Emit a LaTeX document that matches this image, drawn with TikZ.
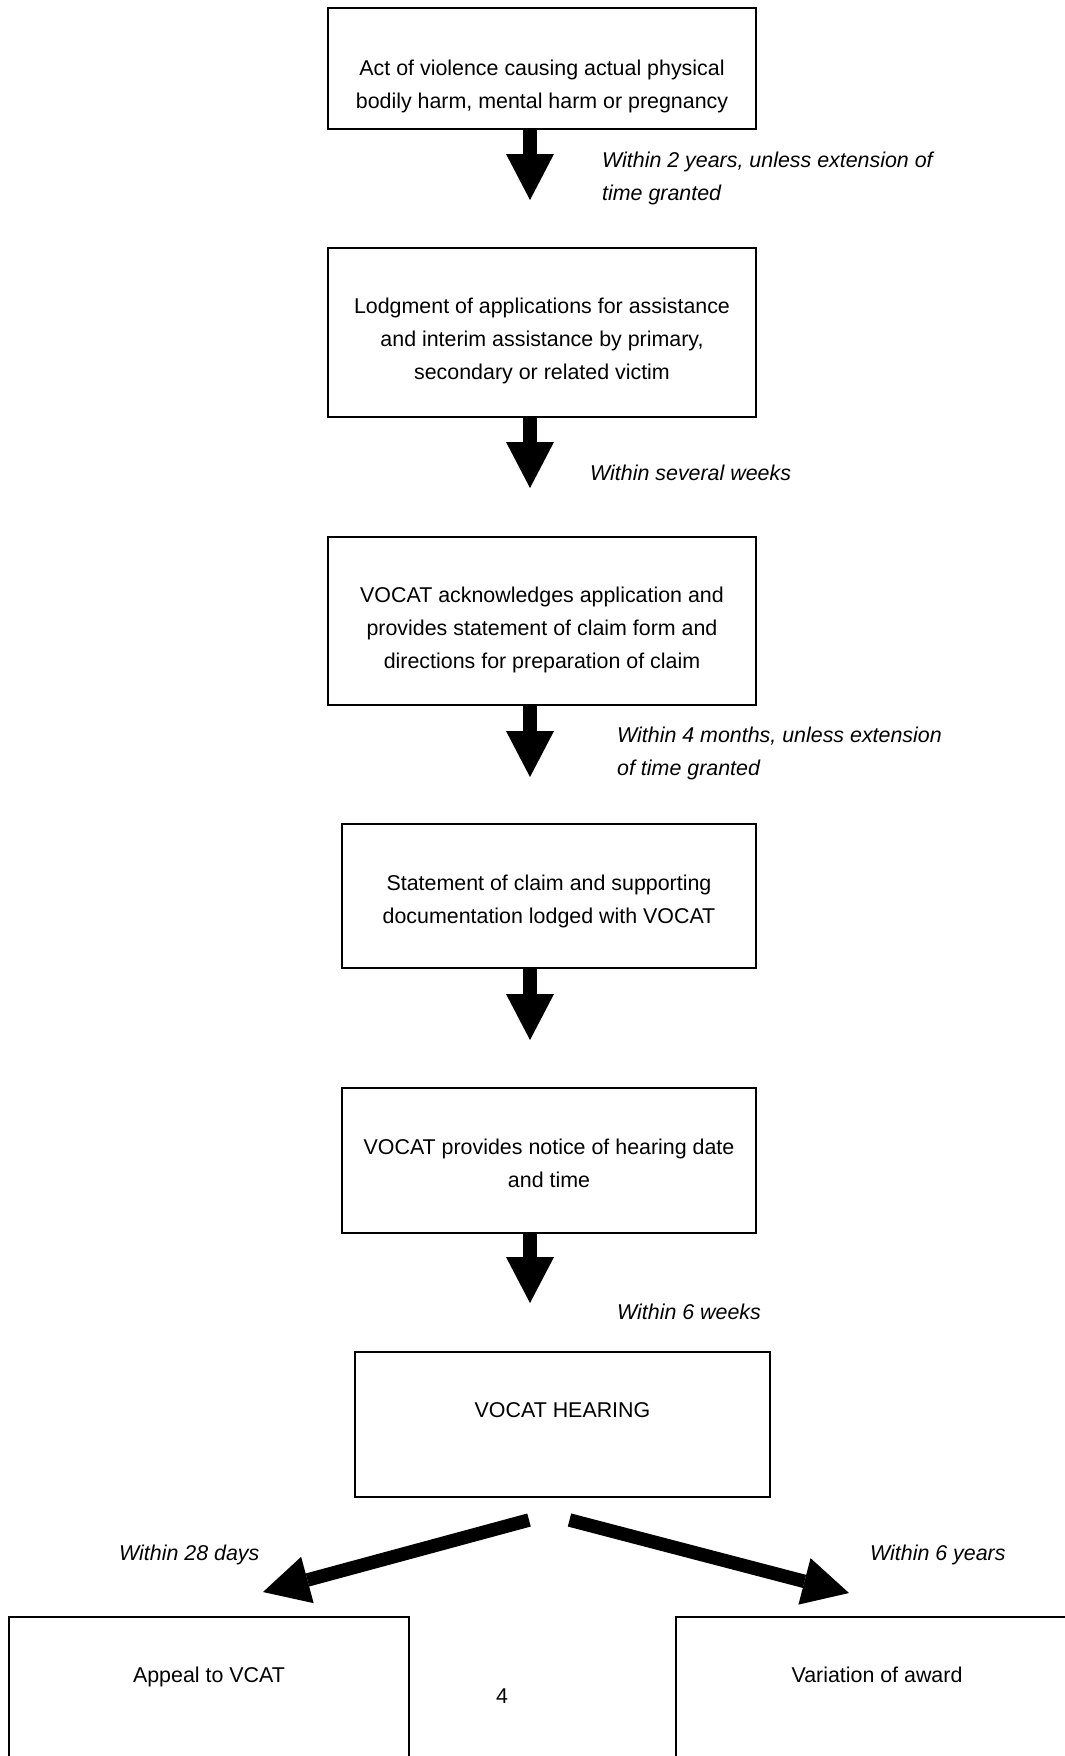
\documentclass[tikz,border=0pt]{standalone}
\usepackage{fontspec}
\setmainfont{Liberation Sans}
\usetikzlibrary{arrows.meta}
\begin{document}
\begin{tikzpicture}[x=1pt,y=-1pt,
  boxstyle/.style={draw=black, line width=1.5pt, rectangle, inner sep=0pt},
  boxtext/.style={font=\fontsize{21.4}{33}\selectfont, align=center, anchor=base, inner sep=0pt},
  note/.style={font=\fontsize{21.4}{33}\selectfont\itshape, align=left, anchor=base west, inner sep=0pt},
  bigarrow/.style={line width=13.5pt, -{Triangle[length=46pt,width=48pt,line width=0pt]}}]
\useasboundingbox (0,0) rectangle (1065,1756);
\clip (0,0) rectangle (1065,1756);

% boxes
\node[boxstyle, minimum width=428pt, minimum height=121pt] (b1) at (542,68.5) {};
\node[boxstyle, minimum width=428pt, minimum height=169pt] (b2) at (542,332.5) {};
\node[boxstyle, minimum width=428pt, minimum height=168pt] (b3) at (542,621) {};
\node[boxstyle, minimum width=414pt, minimum height=144pt] (b4) at (549,896) {};
\node[boxstyle, minimum width=414pt, minimum height=145pt] (b5) at (549,1160.5) {};
\node[boxstyle, minimum width=415pt, minimum height=145pt] (b6) at (562.5,1424.5) {};
\node[boxstyle, minimum width=400pt, minimum height=163pt] (b7) at (209,1698.5) {};
\node[boxstyle, minimum width=402pt, minimum height=163pt] (b8) at (877,1698.5) {};

% box texts (anchor base = baseline of the last line)
\node[boxtext] (t1) at (542,108.5) {Act of violence causing actual physical\\bodily harm, mental harm or pregnancy};
\node[boxtext] (t2) at (542,379) {Lodgment of applications for assistance\\and interim assistance by primary,\\secondary or related victim};
\node[boxtext] (t3) at (542,668) {VOCAT acknowledges application and\\provides statement of claim form and\\directions for preparation of claim};
\node[boxtext] (t4) at (549,923) {Statement of claim and supporting\\documentation lodged with VOCAT};
\node[boxtext] (t5) at (549,1187) {VOCAT provides notice of hearing date\\and time};
\node[boxtext] (t6) at (562.5,1417) {VOCAT HEARING};
\node[boxtext] (t7) at (209,1682) {Appeal to VCAT};
\node[boxtext] (t8) at (877,1682) {Variation of award};
\node[boxtext] (pg) at (502,1703) {4};

% notes
\node[note] (n1) at (602,200) {Within 2 years, unless extension of\\time granted};
\node[note] (n2) at (590,480) {Within several weeks};
\node[note] (n3) at (617,775) {Within 4 months, unless extension\\of time granted};
\node[note] (n5) at (617,1319) {Within 6 weeks};
\node[note] (n6) at (119,1560) {Within 28 days};
\node[note] (n7) at (870,1560) {Within 6 years};

% arrow end points
\coordinate (e1) at (530,200);
\coordinate (e2) at (530,488);
\coordinate (e3) at (530,777);
\coordinate (e4) at (530,1040);
\coordinate (e5) at (530,1303);
\coordinate (l0) at (529,1520);
\coordinate (l1) at (263,1592);
\coordinate (r0) at (569.5,1520);
\coordinate (r1) at (849,1593);

% arrows
\draw[bigarrow] (b1.south -| e1) -- (e1);
\draw[bigarrow] (b2.south -| e2) -- (e2);
\draw[bigarrow] (b3.south -| e3) -- (e3);
\draw[bigarrow] (b4.south -| e4) -- (e4);
\draw[bigarrow] (b5.south -| e5) -- (e5);
\draw[bigarrow] (l0) -- (l1);
\draw[bigarrow] (r0) -- (r1);
\end{tikzpicture}
\end{document}
